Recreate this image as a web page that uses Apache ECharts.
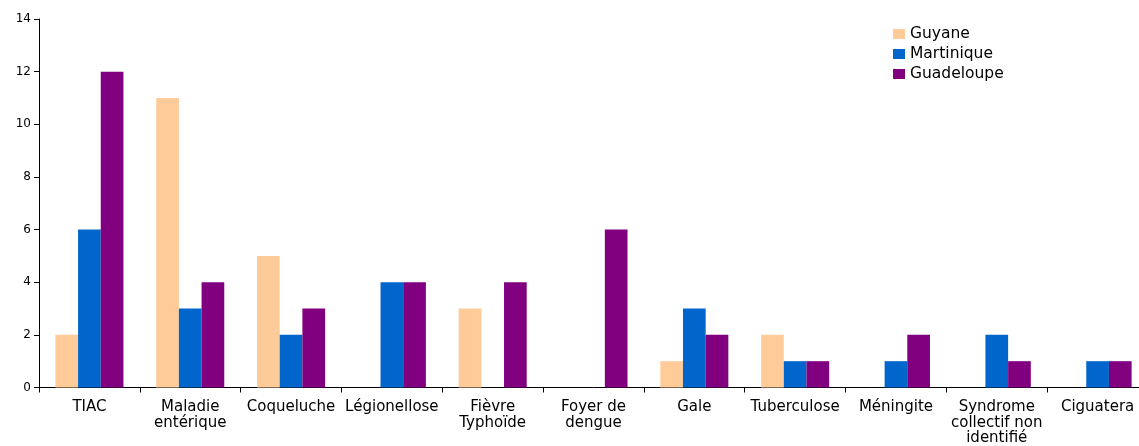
<!DOCTYPE html>
<html>
<head>
<meta charset="utf-8">
<script src="https://cdn.jsdelivr.net/npm/echarts@6/dist/echarts.min.js"></script>
<style>html,body{margin:0;padding:0;background:#fff;overflow:hidden;}#c{width:1150px;height:446px;}</style>
</head>
<body>
<div id="c"></div>
<script>
const categories = ["TIAC", "Maladie\nentérique", "Coqueluche", "Légionellose", "Fièvre\nTyphoïde", "Foyer de\ndengue", "Gale", "Tuberculose", "Méningite", "Syndrome\ncollectif non\nidentifié", "Ciguatera"];
const guyane = [2, 11, 5, 0, 3, 0, 1, 2, 0, 0, 0];
const martinique = [6, 3, 2, 4, 0, 0, 3, 1, 1, 2, 1];
const guadeloupe = [12, 4, 3, 4, 4, 6, 2, 1, 2, 1, 1];
const yTicks = [0, 2, 4, 6, 8, 10, 12, 14];

const chart = echarts.init(document.getElementById('c'));
const font = 'DejaVu Sans, sans-serif';
const mk = (name, data, color) => ({
  name, type: 'bar', data, barGap: '0%', barCategoryGap: '32.5%',
  itemStyle: { color }, emphasis: { disabled: true }
});
chart.setOption({
  animation: false,
  textStyle: { fontFamily: font },
  grid: { left: 39, top: 19, width: 1109, height: 370, containLabel: false },
  legend: {
    orient: 'vertical', left: 893, top: 26, padding: 0, itemWidth: 12, itemHeight: 10, itemGap: 4,
    icon: 'rect',
    textStyle: { fontFamily: font, fontSize: 15.5, color: '#000' },
    data: ['Guyane', 'Martinique', 'Guadeloupe']
  },
  xAxis: {
    type: 'category', data: categories,
    axisLine: { lineStyle: { color: '#000', width: 1 } },
    axisTick: { show: true, length: 5, alignWithLabel: false, lineStyle: { color: '#000' } },
    axisLabel: { interval: 0, fontFamily: font, fontSize: 15, color: '#000', margin: 12, lineHeight: 15.5 }
  },
  yAxis: {
    type: 'value', min: yTicks[0], max: yTicks[yTicks.length - 1], interval: 2,
    splitLine: { show: false },
    axisLine: { show: true, lineStyle: { color: '#000', width: 1 } },
    axisTick: { show: true, length: 5, lineStyle: { color: '#000' } },
    axisLabel: { fontFamily: font, fontSize: 12, color: '#000', margin: 8 }
  },
  series: [
    mk('Guyane', guyane, '#FFCC99'),
    mk('Martinique', martinique, '#0066CC'),
    mk('Guadeloupe', guadeloupe, '#800080')
  ]
});
</script>
</body>
</html>
